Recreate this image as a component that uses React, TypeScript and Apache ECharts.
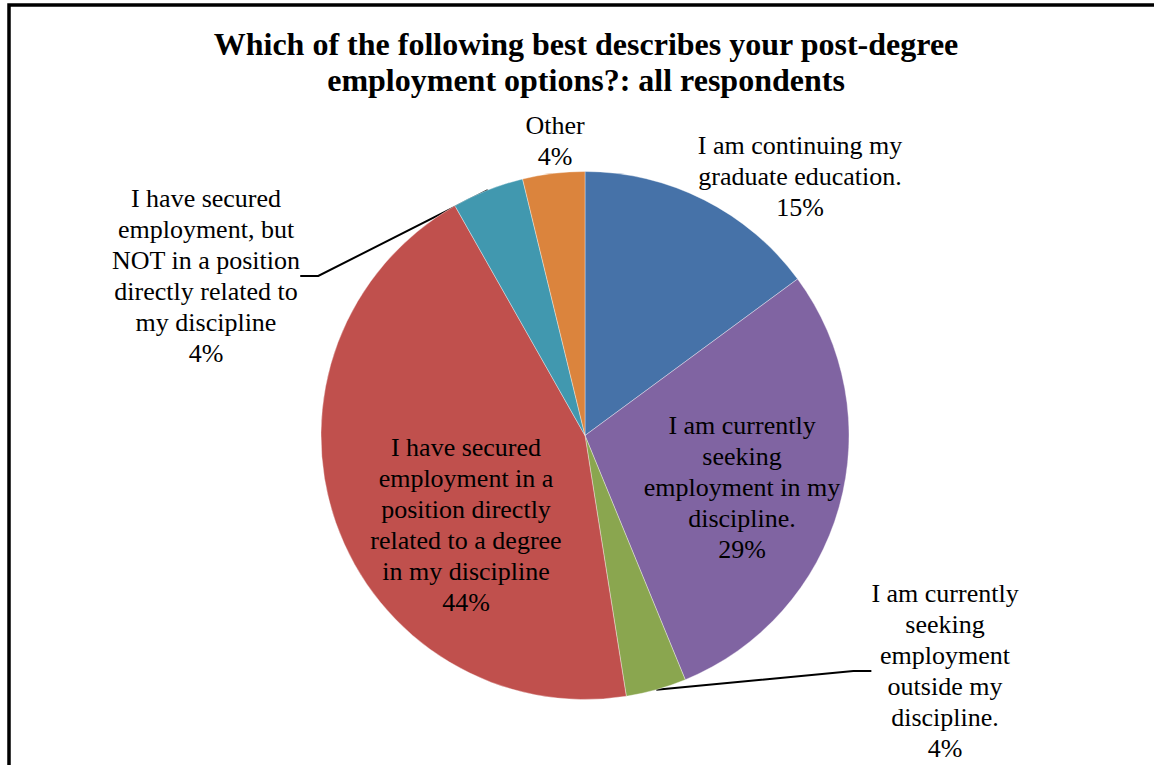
import React, { useEffect, useRef } from "react";
import * as echarts from "echarts";

const titleText = "Which of the following best describes your post-degree\nemployment options?: all respondents";

const categories = [
  "I am continuing my graduate education.",
  "I am currently seeking employment in my discipline.",
  "I am currently seeking employment outside my discipline.",
  "I have secured employment in a position directly related to a degree in my discipline",
  "I have secured employment, but NOT in a position directly related to my discipline",
  "Other",
];

const labelTexts = [
  "I am continuing my\ngraduate education.",
  "I am currently\nseeking\nemployment in my\ndiscipline.",
  "I am currently\nseeking\nemployment\noutside my\ndiscipline.",
  "I have secured\nemployment in a\nposition directly\nrelated to a degree\nin my discipline",
  "I have secured\nemployment, but\nNOT in a position\ndirectly related to\nmy discipline",
  "Other",
];

const values = [14.9, 28.9, 3.7, 44.3, 4.4, 3.8];

const colors = ["#4672A8", "#8064A2", "#8AA64F", "#C0504D", "#4198AF", "#DB843D"];

// label centre positions (layout only)
const labelPos: [number, number][] = [
  [800, 176],
  [742, 487],
  [945, 671],
  [466, 525],
  [206, 276],
  [555, 141],
];
const showLine = [false, false, true, false, true, false];

export default function App() {
  const ref = useRef<HTMLDivElement>(null);
  useEffect(() => {
    if (!ref.current) return;
    const chart = echarts.init(ref.current, undefined, { renderer: "svg" });
    const font = "'Liberation Serif', 'Times New Roman', serif";
    chart.setOption({
      animation: false,
      backgroundColor: "#ffffff",
      title: {
        text: titleText,
        left: 581,
        textAlign: "center",
        top: 21,
        textStyle: {
          fontFamily: font,
          fontWeight: "bold",
          fontSize: 32,
          lineHeight: 36,
          color: "#000",
        },
      },
      graphic: [
        {
          type: "rect",
          z: 100,
          shape: { x: 9, y: 5, width: 1300, height: 900 },
          style: { fill: "transparent", stroke: "#000", lineWidth: 3.5 },
        },
      ],
      series: [
        {
          type: "pie",
          center: [585, 435.5],
          radius: 264,
          startAngle: 90,
          clockwise: true,
          avoidLabelOverlap: false,
          itemStyle: { borderColor: "rgba(255,255,255,0.6)", borderWidth: 0.6 },
          label: {
            fontFamily: font,
            fontSize: 26,
            lineHeight: 31,
            color: "#000",
            align: "center",
            formatter: (p: any) => `${labelTexts[p.dataIndex]}\n${Math.round(p.percent)}%`,
          },
          labelLine: { show: true, length: 20, length2: 18, lineStyle: { color: "#000", width: 2 } },
          labelLayout: (params: any) => {
            const pos = labelPos[params.dataIndex];
            return { x: pos[0], y: pos[1], align: "center", verticalAlign: "middle" };
          },
          data: categories.map((name, i) => ({
            name,
            value: values[i],
            itemStyle: { color: colors[i] },
            labelLine: { show: showLine[i] },
          })),
        },
      ],
    });
    return () => chart.dispose();
  }, []);
  return (
    <div
      ref={ref}
      style={{ position: "fixed", left: 0, top: 0, width: 1154, height: 765 }}
    />
  );
}
